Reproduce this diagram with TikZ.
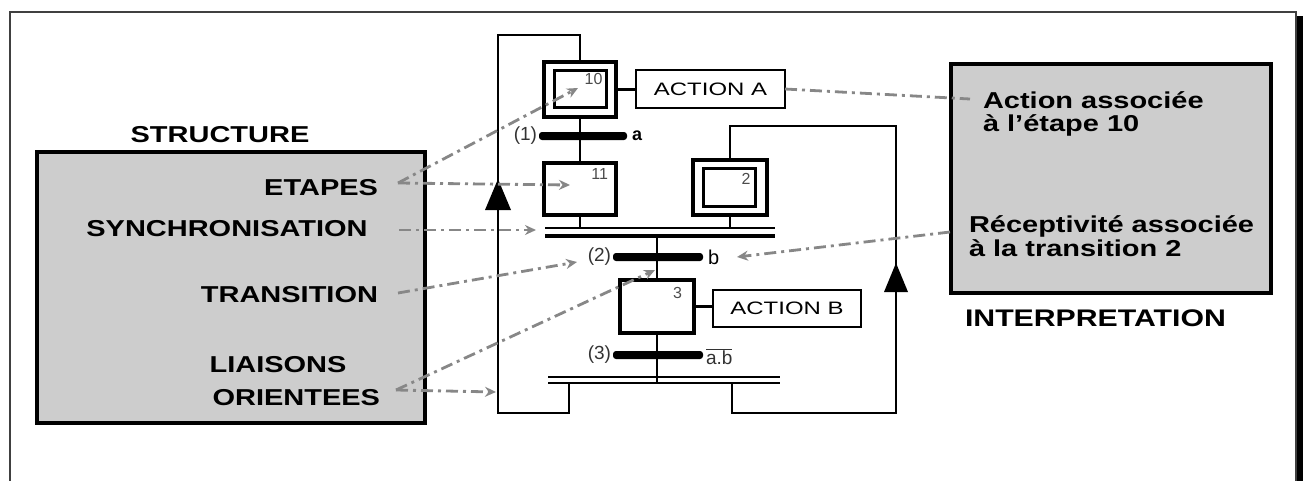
\documentclass[tikz,border=0pt]{standalone}
\usepackage{fontspec}
\setmainfont{Liberation Sans}
\usetikzlibrary{arrows.meta}
\definecolor{dgray}{RGB}{135,135,135}
\definecolor{boxgray}{RGB}{205,205,205}
\newcommand\wtx[2][1.26]{\scalebox{#1}[1]{#2}}
\begin{document}
\begin{tikzpicture}[x=1pt,y=-1pt,
 every node/.style={inner sep=0pt, outer sep=0pt},
 stepbox/.style={draw, line width=3.8pt, fill=white},
 innerbox/.style={draw, line width=2.8pt},
 actbox/.style={draw, line width=2.2pt, font=\fontsize{18}{20}\selectfont},
 link/.style={line width=2.6pt},
 tbar/.style={fill=black, rounded corners=3pt, minimum height=8pt},
 graybox/.style={draw, line width=3.2pt, fill=boxgray},
 dlink/.style={draw=dgray, line width=2.8pt, dash pattern=on 12pt off 5pt on 3pt off 5pt},
 darrow/.style={dlink, -{Stealth[length=11pt,width=10pt]}},
 lbl/.style={font=\fontsize{23}{26}\selectfont\bfseries},
 sm/.style={font=\fontsize{19}{21}\selectfont, text=black!80},
 num/.style={font=\fontsize{16}{18}\selectfont, text=black!70}]
\useasboundingbox (0,0) rectangle (1306,480);
\clip (0,0) rectangle (1306,480);
% outer frame
\draw[line width=2.4pt, black!75] (10,500) -- (10,12) -- (1296,12) -- (1296,500);
\fill (1297,16) rectangle (1303,500);

% gray boxes
\node[graybox, minimum width=388pt, minimum height=271pt] (structbox) at (231,287.5) {};
\node[graybox, minimum width=320pt, minimum height=229pt] (interpbox) at (1111,178.5) {};

% left labels
\node[lbl, anchor=base] (structure) at (220,142) {\wtx{STRUCTURE}};
\node[lbl, anchor=base east] (etapes) at (378,195) {\wtx{ETAPES}};
\node[lbl, anchor=base] (synchro) at (227,236) {\wtx{SYNCHRONISATION}};
\node[lbl, anchor=base east] (transition) at (378,302) {\wtx{TRANSITION}};
\node[lbl, anchor=base] (liaisons) at (278,372) {\wtx{LIAISONS}};
\node[lbl, anchor=base east] (orientees) at (380,405) {\wtx{ORIENTEES}};

% right labels
\node[lbl, anchor=base west] (act1) at (983,108) {\wtx{Action associée}};
\node[lbl, anchor=base west] (act2) at (983,131) {\wtx{à l'étape 10}};
\node[lbl, anchor=base west] (rec1) at (969,232) {\wtx{Réceptivité associée}};
\node[lbl, anchor=base west] (rec2) at (969,256) {\wtx{à la transition 2}};
\node[lbl, font=\fontsize{24}{26}\selectfont\bfseries, anchor=base west] (interp) at (965,326) {\wtx{INTERPRETATION}};

% steps
\node[stepbox, minimum width=72pt, minimum height=55pt] (s10) at (580,89.5) {};
\node[innerbox, minimum width=52pt, minimum height=37pt] (s10i) at (580.5,89) {};
\node[num, anchor=north east] (n10) at ([xshift=-4pt,yshift=-3pt]s10i.north east) {10};
\node[stepbox, minimum width=72pt, minimum height=52pt] (s11) at (580,189) {};
\node[num, anchor=north east] (n11) at ([xshift=-8pt,yshift=-5pt]s11.north east) {11};
\node[stepbox, minimum width=74pt, minimum height=55pt] (s2) at (730,187.5) {};
\node[innerbox, minimum width=52pt, minimum height=38pt] (s2i) at (729.5,187.5) {};
\node[num, anchor=north east] (n2) at ([xshift=-5pt,yshift=-5pt]s2i.north east) {2};
\node[stepbox, minimum width=74pt, minimum height=53pt] (s3) at (657,306.5) {};
\node[num, anchor=north east] (n3) at ([xshift=-12pt,yshift=-7pt]s3.north east) {3};

% actions
\node[actbox, minimum width=149pt, minimum height=38pt] (actA) at (710.5,89) {\wtx[1.33]{ACTION A}};
\node[actbox, minimum width=148pt, minimum height=37pt] (actB) at (787,308.5) {\wtx[1.33]{ACTION B}};
\draw[link] (s10.east) -- (s10.east -| actA.west);
\draw[link] (s3.east) -- (s3.east -| actB.west);

% transitions
\node[tbar, minimum width=88pt] (t1) at (583,136) {};
\node[tbar, minimum width=90pt] (t2) at (658,257) {};
\node[tbar, minimum width=90pt] (t3) at (658,355) {};
\node[sm, anchor=east] (t1l) at ([xshift=-2pt]t1.west) {(1)};
\node[font=\fontsize{18}{20}\selectfont\bfseries, anchor=west] (t1r) at ([xshift=5pt]t1.east) {a};
\node[sm, anchor=east] (t2l) at ([xshift=-2pt]t2.west) {(2)};
\node[font=\fontsize{20}{22}\selectfont, anchor=west] (t2r) at ([xshift=5pt]t2.east) {b};
\node[sm, anchor=east] (t3l) at ([xshift=-2pt]t3.west) {(3)};
\node[sm, anchor=west] (t3r) at ([xshift=3pt,yshift=-2pt]t3.east) {$\overline{\hbox{a.b}}$};

% synchronisation bars
\node[minimum width=230pt, minimum height=8pt] (sync1) at (660,232) {};
\draw[line width=2.4pt] (sync1.north west) -- (sync1.north east);
\draw[line width=3.4pt] (sync1.south west) -- (sync1.south east);
\node[minimum width=232pt, minimum height=6pt] (sync2) at (664,380) {};
\draw[line width=2.4pt] (sync2.north west) -- (sync2.north east);
\draw[line width=2.4pt] (sync2.south west) -- (sync2.south east);

% links
\draw[link] (s10.south) -- (s11.north);
\draw[link] (s11.south) -- (s11.south |- sync1.north);
\draw[link] (s2.south) -- (s2.south |- sync1.north);
\draw[link] (s3.north |- sync1.south) -- (s3.north);
\draw[link] (s3.south) -- (s3.south |- sync2.south);

% loops
\coordinate (lb) at (569,413);
\coordinate (lt) at (498,35);
\draw[link] (sync2.south -| lb) -- (lb) -- (lb -| lt) -- (lt) -- (lt -| s10.north) -- (s10.north);
\coordinate (rb) at (732,413);
\coordinate (rt) at (896,126);
\draw[link] (sync2.south -| rb) -- (rb) -- (rb -| rt) -- (rt) -- (rt -| s2.north) -- (s2.north);
\coordinate (la) at (498,179);
\fill (la) -- ++(13,31) -- ++(-26,0) -- cycle;
\coordinate (ra) at (896,263);
\fill (ra) -- ++(12,29) -- ++(-24,0) -- cycle;

% dashed explanation links
\coordinate (etp) at (398,183);
\coordinate (e10) at (578,88);
\coordinate (e11) at (570,185);
\draw[darrow] (etp) -- (e10);
\draw[darrow] (etp) -- (e11);
\coordinate (syn0) at (399,230);
\coordinate (syn1) at (536,230);
\draw[darrow] (syn0) -- (syn1);
\coordinate (tr0) at (398,293);
\coordinate (tr1) at (577,262);
\draw[darrow] (tr0) -- (tr1);
\coordinate (lo0) at (396,390);
\coordinate (lo1) at (655,270);
\coordinate (lo2) at (496,392);
\draw[darrow] (lo0) -- (lo1);
\draw[darrow] (lo0) -- (lo2);
\coordinate (aa1) at (970,99);
\draw[dlink] (actA.east) -- (aa1);
\coordinate (rc0) at (950,232);
\coordinate (rc1) at (737,257);
\draw[darrow] (rc0) -- (rc1);
\end{tikzpicture}
\end{document}
